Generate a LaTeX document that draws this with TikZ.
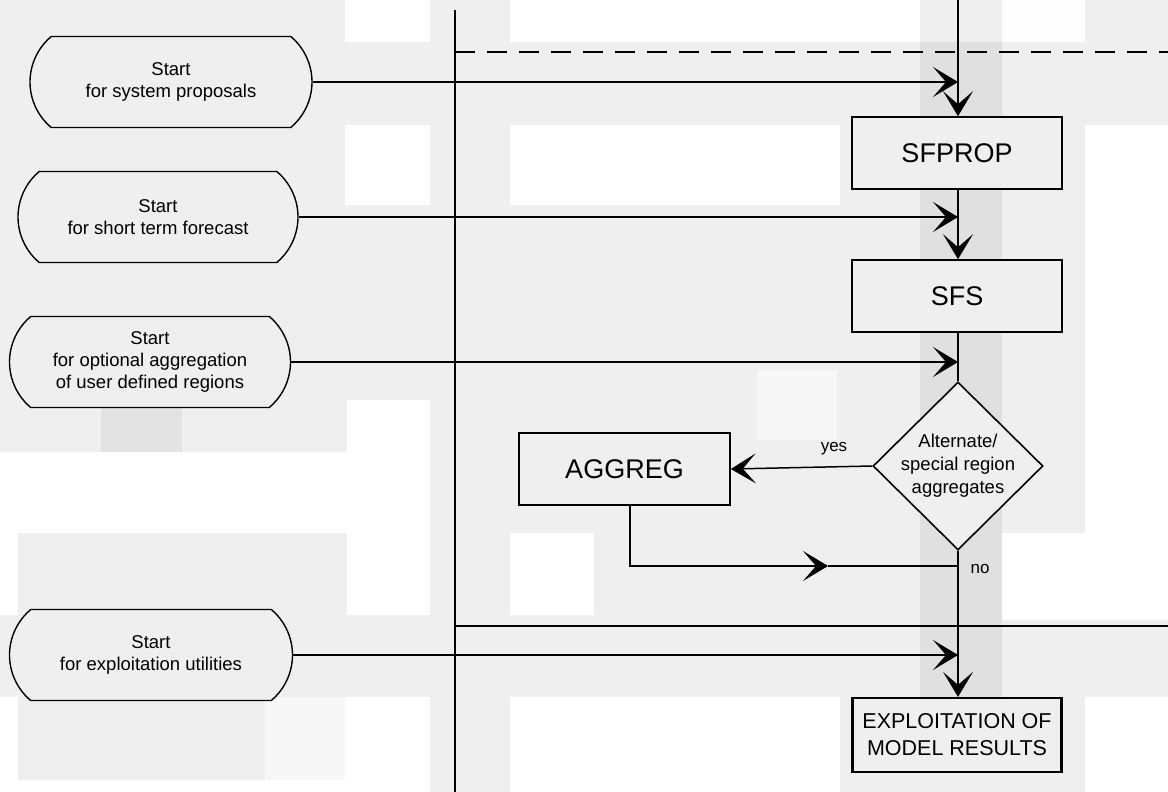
\documentclass[tikz,border=0pt]{standalone}
\usepackage{fontspec}
\setmainfont{Liberation Sans}
\usetikzlibrary{shapes.misc,shapes.geometric,arrows.meta}
\definecolor{bgc}{HTML}{EFEFEF}
\definecolor{band}{HTML}{E0E0E0}
\definecolor{blk}{HTML}{E3E3E3}
\definecolor{lite}{HTML}{F7F7F7}
\begin{document}
\begin{tikzpicture}[x=1pt,y=-1pt,
  startbox/.style={rounded rectangle, rounded rectangle arc length=100, draw, line width=1.4pt,
    minimum height=91pt, align=center, inner sep=0pt, font=\fontsize{18.5}{22}\selectfont},
  procbox/.style={rectangle, draw, line width=1.6pt, inner sep=0pt, align=center,
    font=\fontsize{27}{30}\selectfont},
  decbox/.style={diamond, draw, line width=1.6pt, inner sep=0pt, minimum width=170pt,
    minimum height=168pt},
  dectxt/.style={align=center, inner sep=0pt, font=\fontsize{18.5}{23}\selectfont},
  arr/.style={-{Stealth[length=25pt,width=30pt,inset=13pt]}, line width=1.5pt},
  conn/.style={line width=1.5pt},
  lbl/.style={font=\fontsize{17}{19}\selectfont, inner sep=0pt}]
\useasboundingbox (0,0) rectangle (1168,792);
% background
\fill[bgc] (0,0) rectangle (1168,792);
\fill[white] (345,0) rectangle (430,42);
\fill[white] (510,0) rectangle (920,42);
\fill[white!97!bgc] (1002,0) rectangle (1085,42);
\fill[white] (345,125) rectangle (430,205);
\fill[white] (510,125) rectangle (840,205);
\fill[lite] (757,370) rectangle (837,440);
\fill[white] (1085,125) rectangle (1168,620);
\fill[white] (1000,533) rectangle (1168,620);
\fill[white] (510,533) rectangle (594,615);
\fill[white] (0,452) rectangle (430,533);
\fill[white] (347,400) rectangle (430,615);
\fill[white] (0,533) rectangle (18,615);
\fill[white] (510,697) rectangle (840,792);
\fill[white] (1085,697) rectangle (1168,792);
\fill[white] (0,697) rectangle (18,792);
\fill[lite] (265,697) rectangle (345,780);
\fill[white] (345,697) rectangle (430,792);
\fill[white] (0,780) rectangle (430,792);
\fill[band] (920,42) rectangle (1002,697);
\fill[blk] (101,408) rectangle (182,452);

% frame lines
\coordinate (vl) at (455,10);
\coordinate (vlb) at (455,792);
\coordinate (dl) at (455,52);
\coordinate (dr) at (1168,52);
\coordinate (hl) at (455,626);
\coordinate (hr) at (1168,626);
\coordinate (top) at (958,0);
\draw[conn] (vl) -- (vlb);
\draw[conn, dash pattern=on 20pt off 12pt] (dl) -- (dr);
\draw[conn] (hl) -- (hr);

% start nodes
\node[startbox, minimum width=282pt, fill=bgc] (s1) at (171,82) {Start\\for system proposals};
\node[startbox, minimum width=280pt, fill=bgc] (s2) at (158,217) {Start\\for short term forecast};
\node[startbox, minimum width=281pt, fill=bgc] (s3) at (150,362) {Start\\for optional aggregation\\of user defined regions};
\node[startbox, minimum width=283pt, fill=bgc] (s4) at (151,655) {Start\\for exploitation utilities};

% process nodes
\node[procbox, minimum width=210pt, minimum height=72pt, fill=bgc] (sfprop) at (957,153) {SFPROP};
\node[procbox, minimum width=210pt, minimum height=72pt, fill=bgc] (sfs) at (957,296) {SFS};
\node[decbox, fill=bgc] (dec) at (958,466) {};
\node[dectxt] (dect) at (dec.center) {Alternate/\\special region\\aggregates};
\node[procbox, minimum width=211pt, minimum height=72pt, fill=bgc] (aggreg) at (624.5,469) {AGGREG};
\node[procbox, line width=2.2pt, minimum width=209pt, minimum height=74pt, fill=bgc,
  font=\fontsize{21.5}{27}\selectfont] (expl) at (957,735) {EXPLOITATION OF\\MODEL RESULTS};

% connectors
\draw[arr] (top) -- (top |- sfprop.north);
\draw[arr] (s1.east) -- (s1.east -| top);
\draw[arr] (sfprop.south -| top) -- (sfs.north -| top);
\draw[arr] (s2.east) -- (s2.east -| top);
\draw[conn] (sfs.south -| top) -- (dec.north);
\draw[arr] (s3.east) -- (s3.east -| top);
\draw[arr] (dec.west) -- (aggreg.east);
\node[lbl] (yes) at (834,449) {yes};
\coordinate (ab) at ([xshift=5.5pt]aggreg.south);
\coordinate (mid) at (828,566);
\coordinate (join) at (958,566);
\draw[arr] (ab) |- (mid);
\draw[conn] (mid) -- (join);
\node[lbl] (no) at (980,569) {no};
\draw[arr] (dec.south) -- (dec.south |- expl.north);
\draw[arr] (s4.east) -- (s4.east -| top);
\end{tikzpicture}
\end{document}
